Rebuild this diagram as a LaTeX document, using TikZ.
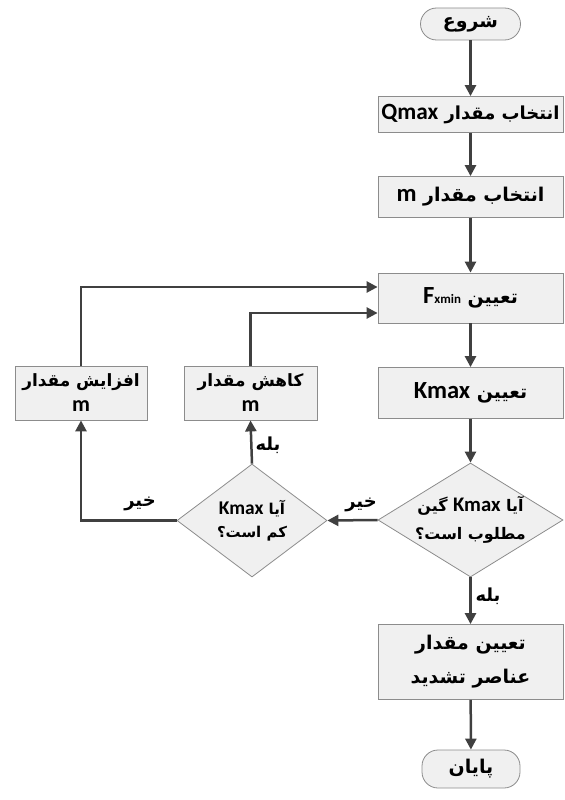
\documentclass[tikz,border=0pt]{standalone}
\usepackage{fontspec}
\setmainfont{DejaVu Sans}
\newfontfamily\arabicfont[Script=Arabic]{DejaVu Sans}
\newfontfamily\latinfont[Scale=1.3]{Carlito}
\TeXXeTstate=1
\usetikzlibrary{shapes.geometric,arrows.meta}
\definecolor{linegray}{HTML}{404040}
\definecolor{boxgray}{HTML}{F0F0F0}
\newcommand{\fa}[1]{\beginR #1\endR}
\newcommand{\en}[1]{\beginL{\latinfont #1}\endL}
\tikzset{
  block/.style = {draw = black!45, fill = boxgray, line width = 0.8bp, minimum width = 185bp, inner sep = 0pt, align = center, font = \arabicfont\bfseries\fontsize{19}{34}\selectfont},
  terminal/.style = {block, rounded corners = 16bp, minimum width = 100bp},
  decision/.style = {diamond, draw = black!45, fill = boxgray, line width = 0.8bp, inner sep = -12bp, align = center},
  flow/.style = {draw = linegray, line width = 2.5bp, -{Triangle[length = 11bp, width = 11bp]}},
  answer/.style = {inner sep = 0pt, font = \arabicfont\bfseries\fontsize{18}{20}\selectfont}
}

\begin{document}
\begin{tikzpicture}[x = 1bp, y = -1bp]
\useasboundingbox (0,0) rectangle (565,800);

\node[terminal, minimum height = 32bp] (S) at (470.5,24) {\fa{شروع}};
\node[block, minimum height = 36bp, font = \arabicfont\bfseries\fontsize{18}{20}\selectfont] (n1) at (470.5,114.5) {\fa{انتخاب مقدار \en{Qmax}}};
\node[block, minimum height = 41bp] (n2) at (470.5,197) {\fa{انتخاب مقدار \en{m}}};
\node[block, minimum height = 50bp] (n3) at (470.5,298) {\fa{تعیین \en{F{\fontsize{10}{10}\selectfont xmin}}}};
\node[block, minimum height = 51bp] (n4) at (470.5,393) {\fa{تعیین \en{Kmax}}};
\node[decision, minimum width = 185bp, minimum height = 114bp, aspect = 1.6, font = \arabicfont\bfseries\fontsize{16}{28}\selectfont] (d1) at (470.5,520) {\fa{آیا \en{Kmax} گین}\\\fa{مطلوب است؟}};
\node[block, minimum height = 75bp] (n5) at (470.5,662) {\fa{تعیین مقدار}\\\fa{عناصر تشدید}};
\node[terminal, minimum height = 38bp, minimum width = 98bp] (E) at (471,769) {\fa{پایان}};

\node[block, minimum width = 132bp, minimum height = 54bp, font = \arabicfont\bfseries\fontsize{17}{25}\selectfont] (n21) at (81,393) {\fa{افزایش مقدار}\\\en{m}};
\node[block, minimum width = 133bp, minimum height = 54bp, font = \arabicfont\bfseries\fontsize{17}{25}\selectfont] (n22) at (250.5,393) {\fa{کاهش مقدار}\\\en{m}};
\node[decision, minimum width = 150bp, minimum height = 113bp, aspect = 1.33, font = \arabicfont\bfseries\fontsize{15}{23}\selectfont] (d2) at (252,520.5) {\fa{آیا \en{Kmax}}\\\fa{کم است؟}};

\node[answer] (no1) at (361,505) {\fa{خیر}};
\node[answer] (no2) at (140,504) {\fa{خیر}};
\node[answer] (yes1) at (268,445) {\fa{بله}};
\node[answer] (yes2) at (488,596) {\fa{بله}};

\draw[flow] (S) -- (n1);
\draw[flow] (n1) -- (n2);
\draw[flow] (n2) -- (n3);
\draw[flow] (n3) -- (n4);
\draw[flow] (n4) -- (d1);
\draw[flow] (d1) -- (n5);
\draw[flow] (n5) -- (E);
\draw[flow] (d1.west) -- (d2.east);
\draw[flow] (d2.north) -- (n22.south);
\draw[flow] (d2.west) -| (n21.south);
\draw[flow] (n21.north) |- ([yshift = 11bp]n3.west);
\draw[flow] (n22.north) |- ([yshift = -15bp]n3.west);

\end{tikzpicture}
\end{document}
